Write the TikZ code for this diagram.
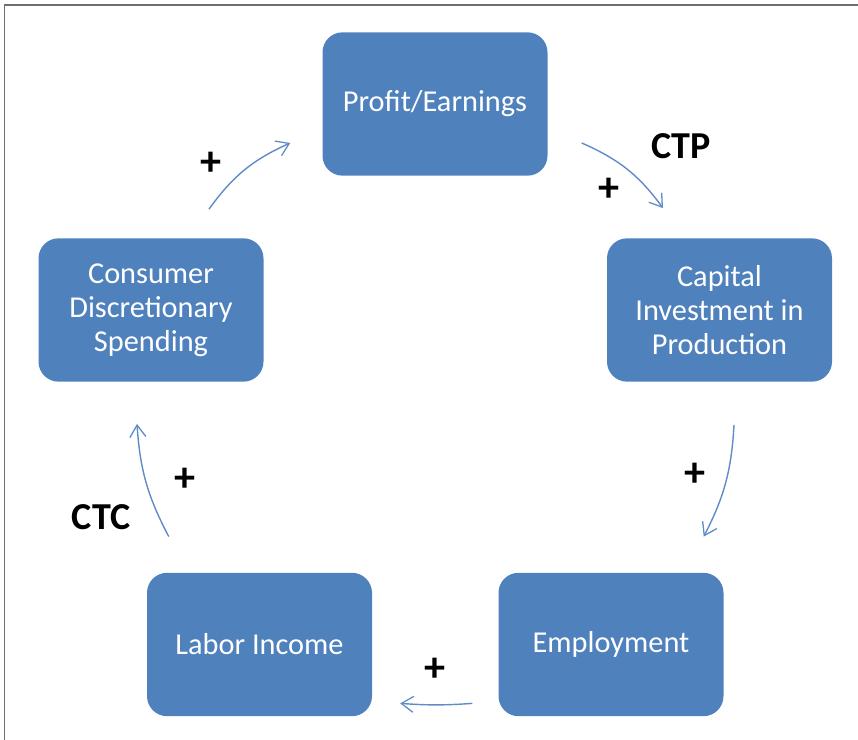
\documentclass[tikz,border=0pt]{standalone}
\usepackage{fontspec}
\setmainfont{Carlito}
\usetikzlibrary{arrows.meta}
\usetikzlibrary{positioning}

\definecolor{boxblue}{RGB}{79,129,189}
\definecolor{arrowblue}{RGB}{95,140,200}
\definecolor{framegray}{RGB}{110,110,110}

\tikzset{
  stage/.style={rectangle,rounded corners=0.6cm,fill=boxblue,draw=none,
    minimum width=6.75cm,minimum height=4.3cm,text=white,align=center,
    font=\fontsize{25.9}{29}\selectfont},
  flow/.style={draw=arrowblue,line width=1.2pt,
    -{Straight Barb[length=3.6mm,width=4.8mm,line width=1.1pt]}},
  sign/.style={font=\bfseries\fontsize{36}{38}\selectfont,text=black},
  loopname/.style={font=\bfseries\fontsize{32.5}{36}\selectfont,text=black}
}

\begin{document}
\begin{tikzpicture}
\useasboundingbox (0,0) rectangle (25.74,22.2);
\draw[framegray,line width=1.4pt] (0.135,0) -- (0.135,22.05) -- (25.74,22.05);

\node[stage] (profit) at (13.05,19.08) {Profit/Earnings};
\node[stage] (capital) at (21.585,12.9) {Capital\\Investment in\\Production};
\node[stage] (employ) at (18.33,2.865) {Employment};
\node[stage] (labor) at (7.785,2.865) {Labor Income};
\node[stage] (consumer) at (4.53,12.9) {Consumer\\Discretionary\\Spending};

\draw[flow] ([shift={(1.74,0.87)}]consumer.north) to[bend left=15] ([shift={(-0.96,-1.17)}]profit.west);
\draw[flow] ([shift={(1.02,-1.17)}]profit.east) to[bend left=15] ([shift={(-1.695,0.9)}]capital.north);
\draw[flow] ([shift={(0.435,-1.29)}]capital.south) to[bend left=12] ([shift={(-0.6,1.08)}]employ.north east);
\draw[flow] ([shift={(-0.78,0.39)}]employ.south west) to[bend left=4] ([shift={(0.84,0.39)}]labor.south east);
\draw[flow] ([shift={(0.66,1.08)}]labor.north west) to[bend left=12] ([shift={(-0.42,-1.26)}]consumer.south);

\node[sign] (p1) at (6.33,17.28) {+};
\node[sign] (p2) at (18.27,16.5) {+};
\node[sign] (p3) at (20.85,7.95) {+};
\node[sign] (p4) at (13.05,2.1) {+};
\node[sign] (p5) at (5.55,7.8) {+};

\node[loopname] (ctp) at (20.43,17.82) {CTP};
\node[loopname] (ctc) at (3.03,6.69) {CTC};

\end{tikzpicture}
\end{document}
